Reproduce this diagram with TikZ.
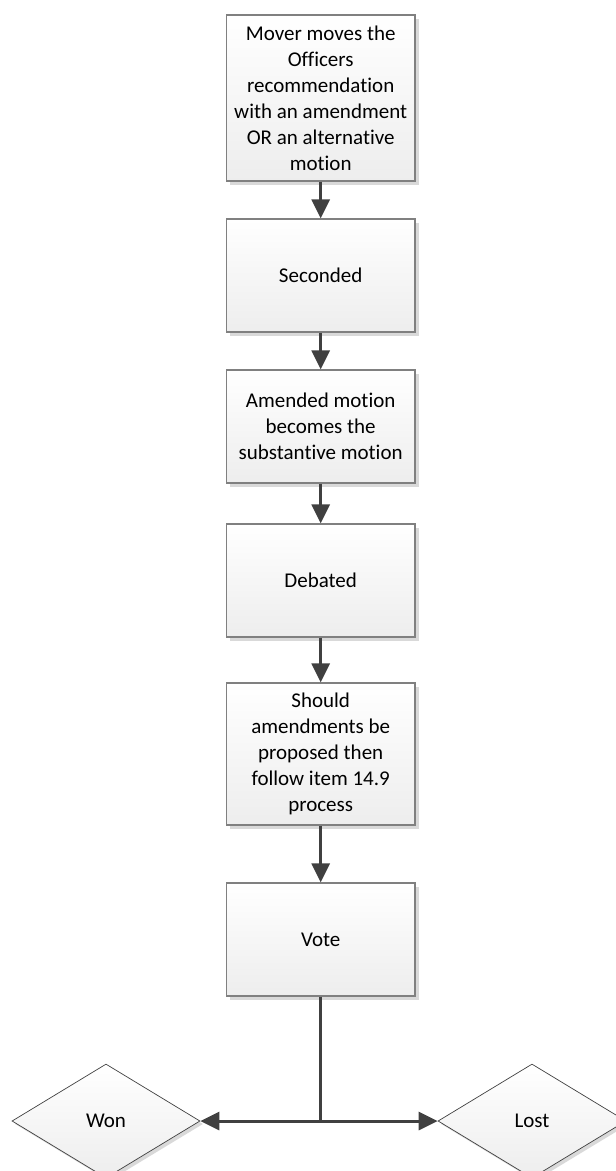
\documentclass[tikz,border=0pt]{standalone}
\usepackage{fontspec}
\setmainfont{Carlito}[Ligatures=NoCommon]
\usetikzlibrary{shapes.geometric,arrows.meta,shadows}
\definecolor{arrowgray}{HTML}{404040}
\definecolor{boxborder}{HTML}{808080}
\definecolor{shadowgray}{HTML}{D9D9D9}
\begin{document}
\begin{tikzpicture}[x=1pt,y=1pt,
  flowbox/.style={rectangle, draw=boxborder, line width=1.3pt,
    top color=white, bottom color=black!7,
    drop shadow={shadow xshift=4pt, shadow yshift=-4pt, fill=shadowgray, opacity=1},
    minimum width=188.5pt, align=center, inner sep=2pt,
    font=\fontsize{21}{26}\selectfont},
  decision/.style={diamond, draw=arrowgray, line width=0.7pt,
    top color=white, bottom color=black!7,
    drop shadow={shadow xshift=3pt, shadow yshift=-3pt, fill=shadowgray, opacity=1},
    minimum width=188pt, minimum height=114pt, inner sep=0pt, shape aspect=1.65,
    font=\fontsize{21}{26}\selectfont},
  arr/.style={draw=arrowgray, line width=3pt, -{Triangle[length=19pt,width=18pt]}},
  plain/.style={draw=arrowgray, line width=3pt}
]
\useasboundingbox (0,0) rectangle (616,-1171);
\node[flowbox, minimum height=166pt] (b1) at (320.7,-98) {Mover moves the\\Officers\\recommendation\\with an amendment\\OR an alternative\\motion};
\node[flowbox, minimum height=113pt] (b2) at (320.7,-275.5) {Seconded};
\node[flowbox, minimum height=113pt] (b3) at (320.7,-426.5) {Amended motion\\becomes the\\substantive motion};
\node[flowbox, minimum height=113pt] (b4) at (320.7,-580.5) {Debated};
\node[flowbox, minimum height=142pt] (b5) at (320.7,-754) {Should\\amendments be\\proposed then\\follow item 14.9\\process};
\node[flowbox, minimum height=113pt] (b6) at (320.7,-939.5) {Vote};
\node[decision] (won) at (106,-1121) {Won};
\node[decision] (lost) at (532,-1121) {Lost};
\coordinate (split) at (320.7,-1121);
\draw[arr] (b1.south) -- (b2.north);
\draw[arr] (b2.south) -- (b3.north);
\draw[arr] (b3.south) -- (b4.north);
\draw[arr] (b4.south) -- (b5.north);
\draw[arr] (b5.south) -- (b6.north);
\draw[plain] (b6.south) -- (split);
\draw[arr] (split) -- (won.east);
\draw[arr] (split) -- (lost.west);
\end{tikzpicture}
\end{document}
